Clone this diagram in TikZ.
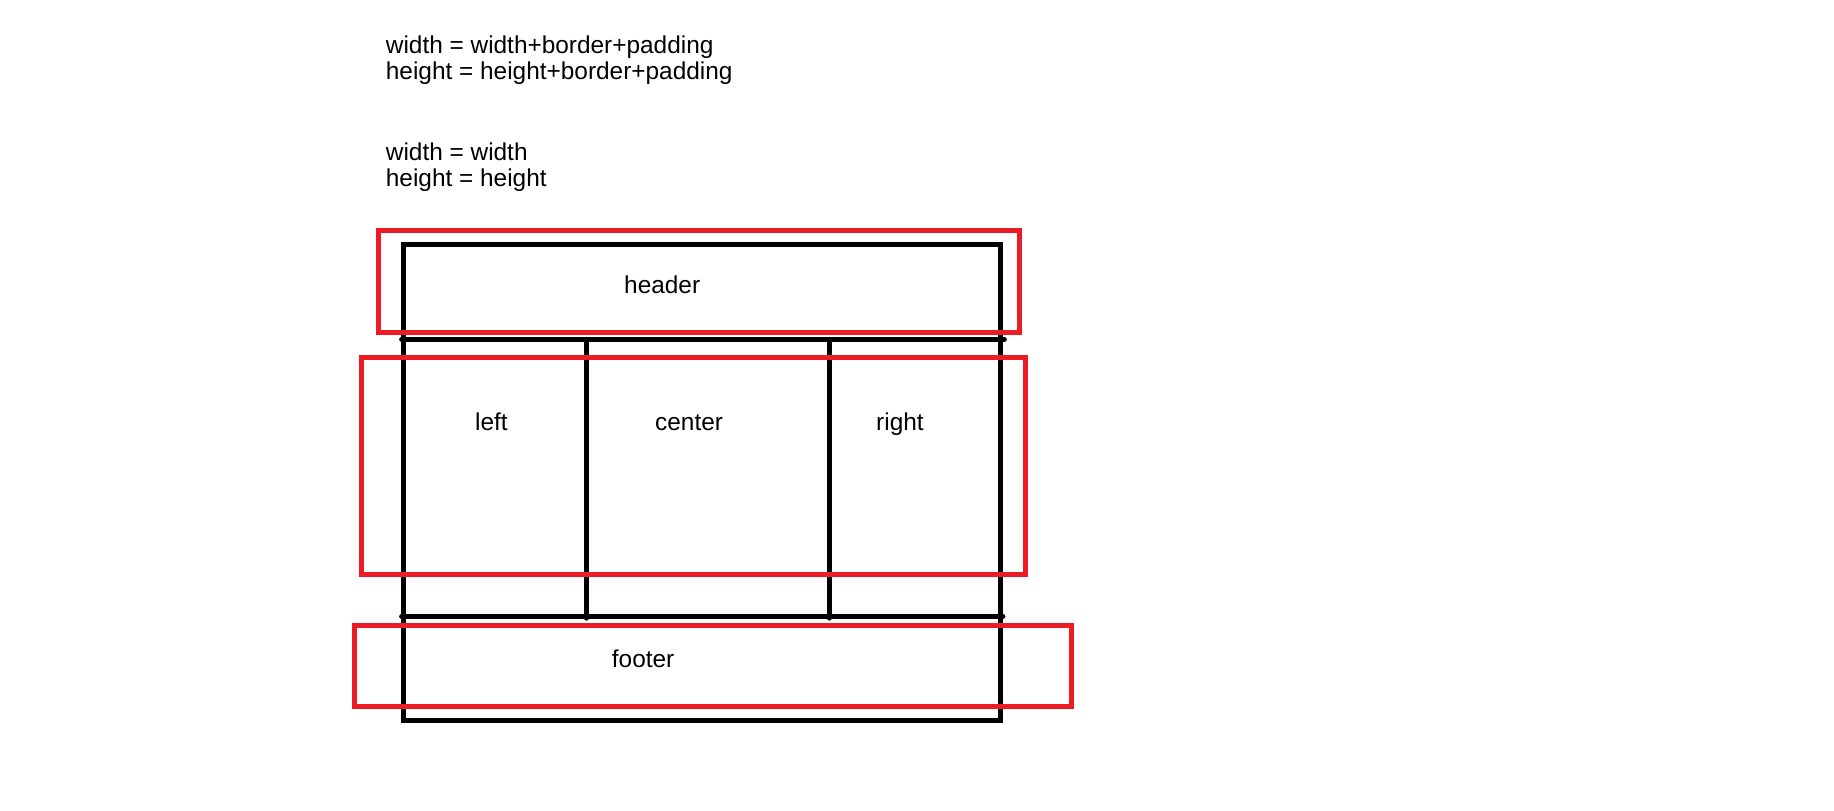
\documentclass[tikz,border=0pt]{standalone}
\usepackage{fontspec}
\setmainfont{Liberation Sans}
\definecolor{pred}{RGB}{237,28,36}
\begin{document}
\begin{tikzpicture}[x=1pt,y=-1pt,
  blk/.style={draw=black,line width=4.7pt},
  redbox/.style={draw=pred,line width=4.7pt},
  lbl/.style={inner sep=0pt,anchor=base west,font=\fontsize{24.4}{26}\selectfont}]
\useasboundingbox[fill=white] (0,0) rectangle (1834,811);
% black layout
\draw[blk] (403.3,244.3) rectangle (1000.3,720.3);
\coordinate (h1l) at (401.5,339.3);
\coordinate (h1r) at (1004.5,339.3);
\coordinate (h2l) at (401.5,616.3);
\coordinate (h2r) at (1003,616.3);
\coordinate (v1t) at (586.6,339.3);
\coordinate (v1b) at (586.6,618.3);
\coordinate (v2t) at (829.2,339.3);
\coordinate (v2b) at (829.2,618.3);
\draw[blk,line cap=round] (h1l) -- (h1r);
\draw[blk,line cap=round] (h2l) -- (h2r);
\draw[blk,line cap=round] (v1t) -- (v1b);
\draw[blk,line cap=round] (v2t) -- (v2b);
% red boxes
\draw[redbox] (378.3,230.3) rectangle (1019.3,332.2);
\draw[redbox] (361.7,357.3) rectangle (1025.3,574.3);
\draw[redbox] (354.3,625.7) rectangle (1071.7,706.3);
% texts
\node[lbl] (t1) at (385.7,53.3) {width = width+border+padding};
\node[lbl] (t2) at (385.7,79.3) {height = height+border+padding};
\node[lbl] (t3) at (385.7,160) {width = width};
\node[lbl] (t4) at (385.7,186.7) {height = height};
\node[lbl] (hd) at (624,293.3) {header};
\node[lbl] (lf) at (475,430.7) {left};
\node[lbl] (ct) at (655,430.7) {center};
\node[lbl] (rt) at (876,430.7) {right};
\node[lbl] (ft) at (611.7,667.3) {footer};
\end{tikzpicture}
\end{document}
